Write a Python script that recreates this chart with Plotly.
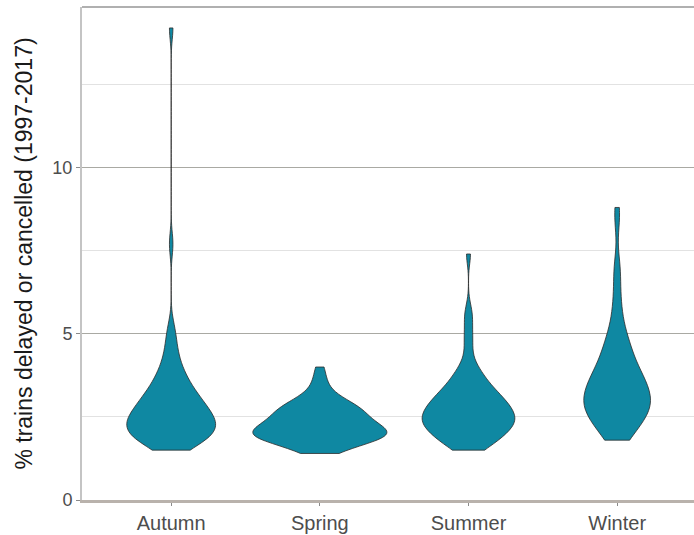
import numpy as np
import plotly.graph_objects as go

# Seasonal % of trains delayed or cancelled, 1997-2017 (one value per rail period)
seasons = ["Autumn", "Spring", "Summer", "Winter"]

autumn = [1.5, 1.6, 1.6, 1.7, 1.7, 1.8, 1.8, 1.8, 1.9, 1.9, 1.9, 2.0, 2.0, 2.0,
          2.1, 2.1, 2.1, 2.2, 2.2, 2.2, 2.2, 2.3, 2.3, 2.3, 2.4, 2.4, 2.4, 2.5,
          2.5, 2.5, 2.6, 2.6, 2.6, 2.7, 2.7, 2.8, 2.8, 2.8, 2.9, 2.9, 3.0, 3.0,
          3.1, 3.1, 3.2, 3.2, 3.3, 3.4, 3.4, 3.5, 3.6, 3.7, 3.8, 3.9, 4.0, 4.2,
          4.4, 4.6, 4.9, 5.2, 7.7, 14.2]

spring = [1.4, 1.4, 1.5, 1.6, 1.6, 1.7, 1.7, 1.7, 1.8, 1.8, 1.8, 1.8, 1.9, 1.9,
          1.9, 1.9, 1.9, 2.0, 2.0, 2.0, 2.0, 2.0, 2.0, 2.1, 2.1, 2.1, 2.1, 2.2,
          2.2, 2.2, 2.2, 2.3, 2.3, 2.3, 2.3, 2.4, 2.4, 2.4, 2.5, 2.5, 2.5, 2.6,
          2.6, 2.6, 2.7, 2.7, 2.7, 2.8, 2.8, 2.8, 2.9, 2.9, 3.0, 3.0, 3.1, 3.2,
          3.3, 3.5, 3.7, 4.0]

summer = [1.5, 1.5, 1.6, 1.7, 1.7, 1.8, 1.8, 1.9, 1.9, 1.9, 2.0, 2.0, 2.1, 2.1,
          2.1, 2.2, 2.2, 2.2, 2.3, 2.3, 2.3, 2.3, 2.4, 2.4, 2.4, 2.5, 2.5, 2.5,
          2.5, 2.6, 2.6, 2.6, 2.7, 2.7, 2.7, 2.8, 2.8, 2.8, 2.9, 2.9, 2.9, 3.0,
          3.0, 3.1, 3.1, 3.1, 3.2, 3.2, 3.3, 3.3, 3.4, 3.5, 3.5, 3.6, 3.7, 3.8,
          3.9, 4.0, 4.3, 4.7, 5.0, 5.4, 5.7, 7.4]

winter = [1.8, 1.8, 1.9, 2.0, 2.1, 2.2, 2.2, 2.3, 2.4, 2.4, 2.5, 2.5, 2.6, 2.6,
          2.6, 2.7, 2.7, 2.8, 2.8, 2.8, 2.9, 2.9, 3.0, 3.0, 3.0, 3.1, 3.1, 3.2,
          3.2, 3.2, 3.3, 3.3, 3.4, 3.4, 3.5, 3.5, 3.6, 3.6, 3.7, 3.7, 3.8, 3.8,
          3.9, 4.0, 4.0, 4.1, 4.2, 4.3, 4.4, 4.5, 4.6, 4.7, 4.8, 4.9, 5.1, 5.3,
          5.6, 5.9, 6.3, 6.8, 7.1, 8.4, 8.8]

series = [autumn, spring, summer, winter]

y_ticks = [0, 5, 10]
y_minor = [2.5, 7.5, 12.5]

FILL = "#0f88a2"
EDGE = "#2b2b2b"


def bw_nrd0(values):
    """Silverman bandwidth, 0.9 variant (same rule as R's bw.nrd0)."""
    v = np.asarray(values, dtype=float)
    q75, q25 = np.percentile(v, [75, 25])
    spread = min(v.std(ddof=1), (q75 - q25) / 1.34)
    return 0.9 * spread * len(v) ** -0.2


fig = go.Figure()
for name, vals in zip(seasons, series):
    # one shared scale group -> every violin encloses the same area
    fig.add_trace(go.Violin(
        x=[name] * len(vals),
        y=vals,
        name=name,
        spanmode="hard",
        bandwidth=bw_nrd0(vals),
        scalegroup="all",
        scalemode="width",
        fillcolor=FILL,
        line=dict(color=EDGE, width=0.8),
        points=False,
        box_visible=False,
        meanline_visible=False,
        showlegend=False,
        hoveron="violins",
    ))

fig.update_layout(
    width=694,
    height=535,
    margin=dict(l=82, r=0, t=7, b=35),
    paper_bgcolor="white",
    plot_bgcolor="white",
    violinmode="overlay",
    violingap=0.1,
    violingroupgap=0,
    font=dict(family="Liberation Sans, Arial, sans-serif", color="#4d4d4d"),
    xaxis=dict(
        type="category",
        categoryorder="array",
        categoryarray=seasons,
        range=[-0.6, 3.517],
        showgrid=False,
        zeroline=False,
        showline=True,
        linecolor="#b9b2ac",
        linewidth=2.5,
        ticks="outside",
        ticklen=3,
        tickwidth=1,
        tickcolor="#8a8a8a",
        tickfont=dict(size=20, color="#4d4d4d"),
    ),
    yaxis=dict(
        range=[0, 14.83],
        tickvals=y_ticks,
        ticktext=[str(t) for t in y_ticks],
        showgrid=True,
        gridcolor="#a9a9a3",
        gridwidth=1,
        zeroline=False,
        showline=True,
        linecolor="#c4c4c4",
        linewidth=2,
        ticks="outside",
        ticklen=4,
        tickwidth=1,
        tickcolor="#8a8a8a",
        tickfont=dict(size=18, color="#4d4d4d"),
        minor=dict(tickvals=y_minor, showgrid=True, gridcolor="#e2e2e2",
                   gridwidth=1, ticks=""),
        title=dict(text="% trains delayed or cancelled (1997-2017)",
                   font=dict(size=23, color="#1a1a1a"), standoff=13),
    ),
    shapes=[dict(type="line", xref="x domain", yref="y domain",
                 x0=0, x1=1, y0=1, y1=1,
                 line=dict(color="#b0b0b0", width=2))],
)

fig.write_html("out.html")
